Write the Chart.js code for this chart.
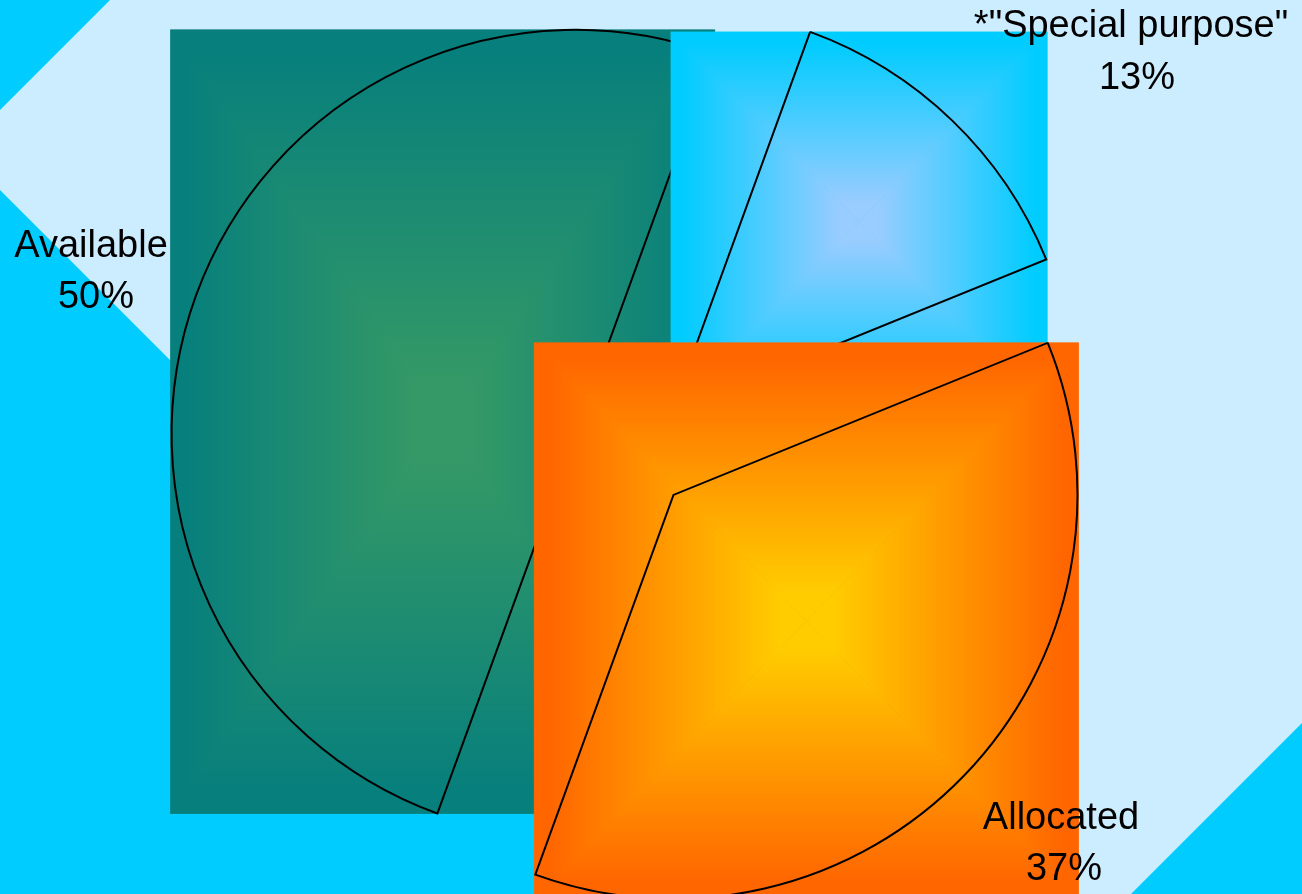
<!DOCTYPE html>
<html>
<head>
<meta charset="utf-8">
<script src="https://cdn.jsdelivr.net/npm/chart.js@4.4.1/dist/chart.umd.min.js"></script>
<style>
  html, body { margin: 0; padding: 0; overflow: hidden; background: #CCECFF; }
  #wrap { position: relative; width: 1302px; height: 894px; }
</style>
</head>
<body>
<div id="wrap"><canvas id="c"></canvas></div>
<script>
// ---- data ----
const categories = ['Available', '*"Special purpose"', 'Allocated'];
const shares = [50, 13.3, 36.7];
const edgeColors = ['#077F7C', '#00CCFF', '#FF6600'];
const centerColors = ['#349966', '#99CCFF', '#FFCC00'];

// ---- layout / style ----
const EXPLODE = 59;
const PIE_RADIUS = 404;
const labelFont = '38px "Liberation Sans", Arial, sans-serif';
const labelLayout = [
  [[91, 257], [96, 308]],
  [[1131, 37], [1137, 89]],
  [[1061, 829], [1064, 880]]
];

const total = shares.reduce((a, b) => a + b, 0);
const percentText = shares.map(v => Math.round(v / total * 100) + '%');

function arcBox(p) {
  const pts = [[p.x, p.y],
    [p.x + Math.cos(p.startAngle) * p.outerRadius, p.y + Math.sin(p.startAngle) * p.outerRadius],
    [p.x + Math.cos(p.endAngle) * p.outerRadius, p.y + Math.sin(p.endAngle) * p.outerRadius]];
  const q = Math.PI / 2;
  for (let k = Math.ceil(p.startAngle / q); k * q <= p.endAngle; k++) {
    pts.push([p.x + Math.cos(k * q) * p.outerRadius, p.y + Math.sin(k * q) * p.outerRadius]);
  }
  const xs = pts.map(a => a[0]), ys = pts.map(a => a[1]);
  return { l: Math.min(...xs) - 1, t: Math.min(...ys), r: Math.max(...xs) + 1, b: Math.max(...ys) };
}

function boxGradient(ctx, box, edge, center) {
  const { l, t, r, b } = box;
  const cx = (l + r) / 2, cy = (t + b) / 2;
  const mk = (x0, y0, x1, y1) => {
    const g = ctx.createLinearGradient(x0, y0, x1, y1);
    g.addColorStop(0, edge);
    g.addColorStop(0.06, edge);
    g.addColorStop(0.9, center);
    g.addColorStop(1, center);
    return g;
  };
  const tris = [
    [[l, t], [r, t], mk(0, t, 0, cy)],
    [[l, b], [r, b], mk(0, b, 0, cy)],
    [[l, t], [l, b], mk(l, 0, cx, 0)],
    [[r, t], [r, b], mk(r, 0, cx, 0)]
  ];
  ctx.save();
  ctx.fillStyle = edge;
  ctx.fillRect(l, t, r - l, b - t);
  tris.forEach(([a, c, g]) => {
    ctx.beginPath();
    ctx.moveTo(a[0], a[1]);
    ctx.lineTo(c[0], c[1]);
    ctx.lineTo(cx, cy);
    ctx.closePath();
    ctx.fillStyle = g;
    ctx.fill();
    ctx.strokeStyle = g;
    ctx.lineWidth = 0.6;
    ctx.stroke();
  });
  ctx.restore();
}

const backgroundPlugin = {
  id: 'slideBackground',
  beforeDraw(chart) {
    const ctx = chart.ctx, W = chart.width, H = chart.height;
    ctx.save();
    ctx.fillStyle = '#CCECFF';
    ctx.fillRect(0, 0, W, H);
    ctx.fillStyle = '#00CCFF';
    const polys = [
      [[0, 0], [110, 0], [0, 110]],
      [[0, 190], [704, 894], [0, 894]],
      [[1302, 723], [1302, 894], [1131, 894]]
    ];
    polys.forEach(poly => {
      ctx.beginPath();
      poly.forEach((pt, i) => i ? ctx.lineTo(pt[0], pt[1]) : ctx.moveTo(pt[0], pt[1]));
      ctx.closePath();
      ctx.fill();
    });
    ctx.restore();
  }
};

const explodePlugin = {
  id: 'explodedSlices',
  beforeDatasetsDraw(chart) {
    const ctx = chart.ctx;
    const meta = chart.getDatasetMeta(0);
    meta.data.forEach((arc, i) => {
      const p = arc.getProps(['x', 'y', 'startAngle', 'endAngle', 'outerRadius'], true);
      const mid = (p.startAngle + p.endAngle) / 2;
      ctx.save();
      ctx.translate(Math.cos(mid) * EXPLODE, Math.sin(mid) * EXPLODE);
      boxGradient(ctx, arcBox(p), edgeColors[i], centerColors[i]);
      arc.draw(ctx);
      ctx.restore();
    });
    return false;
  }
};

const labelPlugin = {
  id: 'sliceLabels',
  afterDraw(chart) {
    const ctx = chart.ctx;
    ctx.save();
    ctx.font = labelFont;
    ctx.fillStyle = '#000';
    ctx.textAlign = 'center';
    ctx.textBaseline = 'alphabetic';
    categories.forEach((name, i) => {
      const [l1, l2] = labelLayout[i];
      ctx.fillText(name, l1[0], l1[1]);
      ctx.fillText(percentText[i], l2[0], l2[1]);
    });
    ctx.restore();
  }
};

new Chart(document.getElementById('c'), {
  type: 'pie',
  data: {
    labels: categories,
    datasets: [{
      data: shares,
      backgroundColor: 'rgba(0,0,0,0)',
      borderColor: '#000000',
      borderWidth: 2,
      borderJoinStyle: 'miter',
      radius: PIE_RADIUS
    }]
  },
  options: {
    responsive: true,
    maintainAspectRatio: false,
    animation: false,
    events: [],
    rotation: 200,
    layout: { padding: { left: 0, right: 40, top: 14, bottom: 0 } },
    plugins: { legend: { display: false }, tooltip: { enabled: false } }
  },
  plugins: [backgroundPlugin, explodePlugin, labelPlugin]
});
</script>
</body>
</html>
